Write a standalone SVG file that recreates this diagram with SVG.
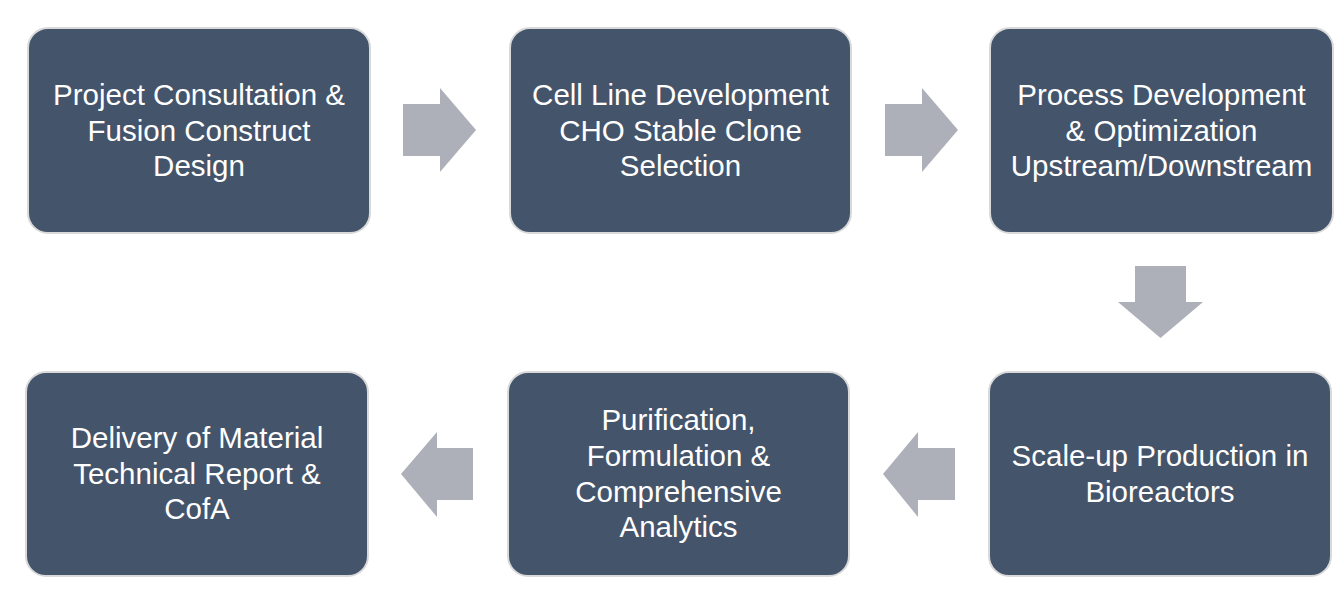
<svg xmlns="http://www.w3.org/2000/svg" width="1342" height="602" viewBox="0 0 1342 602">
<style>
.box{fill:#44546a;stroke:#d9d9d9;stroke-width:2}
.t{font-family:"Liberation Sans",Arial,sans-serif;font-size:29.5px;fill:#ffffff;text-anchor:middle}
.arr{fill:#adb0b8}
</style>
<rect width="1342" height="602" fill="#ffffff"/>
<g id="connectors">
<polygon class="arr" points="403,104 440,104 440,88 476,130 440,172 440,156 403,156"/>
<polygon class="arr" points="885,104 922,104 922,88 958,130 922,172 922,156 885,156"/>
<polygon class="arr" points="1135,266 1186,266 1186,302 1203,302 1160.5,338 1118,302 1135,302"/>
<polygon class="arr" points="955,448 918,448 918,432 883,474 918,517 918,500 955,500"/>
<polygon class="arr" points="473,448 437,448 437,432 401,474 437,517 437,500 473,500"/>
</g>
<g id="n1">
<rect class="box" x="28" y="28" width="342" height="205" rx="20"/>
<text class="t" x="199" y="105">Project Consultation &amp;</text>
<text class="t" x="199" y="141">Fusion Construct</text>
<text class="t" x="199" y="176">Design</text>
</g>
<g id="n2">
<rect class="box" x="510" y="28" width="341" height="205" rx="20"/>
<text class="t" x="680.5" y="105">Cell Line Development</text>
<text class="t" x="680.5" y="141">CHO Stable Clone</text>
<text class="t" x="680.5" y="176">Selection</text>
</g>
<g id="n3">
<rect class="box" x="990" y="28" width="343" height="205" rx="20"/>
<text class="t" x="1161.5" y="105">Process Development</text>
<text class="t" x="1161.5" y="141">&amp; Optimization</text>
<text class="t" x="1161.5" y="176">Upstream/Downstream</text>
</g>
<g id="n6">
<rect class="box" x="989" y="372" width="342" height="204" rx="20"/>
<text class="t" x="1160" y="466">Scale-up Production in</text>
<text class="t" x="1160" y="502">Bioreactors</text>
</g>
<g id="n5">
<rect class="box" x="508" y="372" width="341" height="204" rx="20"/>
<text class="t" x="678.5" y="430">Purification,</text>
<text class="t" x="678.5" y="466">Formulation &amp;</text>
<text class="t" x="678.5" y="502">Comprehensive</text>
<text class="t" x="678.5" y="537">Analytics</text>
</g>
<g id="n4">
<rect class="box" x="26" y="372" width="342" height="204" rx="20"/>
<text class="t" x="197" y="448">Delivery of Material</text>
<text class="t" x="197" y="484">Technical Report &amp;</text>
<text class="t" x="197" y="519">CofA</text>
</g>
</svg>
